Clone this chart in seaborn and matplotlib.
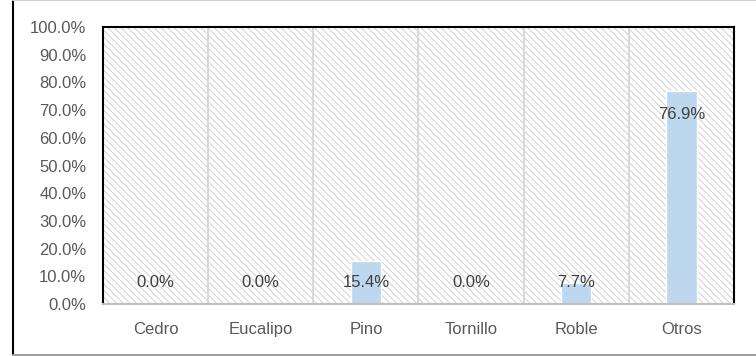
import numpy as np
import pandas as pd
import matplotlib
matplotlib.use("Agg")
import matplotlib.pyplot as plt
import seaborn as sns
from matplotlib.patches import Rectangle
from matplotlib.lines import Line2D

# data
especies = ["Cedro", "Eucalipo", "Pino", "Tornillo", "Roble", "Otros"]
porcentaje = [0.0, 0.0, 15.4, 0.0, 7.7, 76.9]
yticks = [0, 10, 20, 30, 40, 50, 60, 70, 80, 90, 100]

df = pd.DataFrame({"especie": especies, "pct": porcentaje})

sns.set_style("white")
plt.rcParams["font.family"] = ["Liberation Sans", "DejaVu Sans"]
plt.rcParams["hatch.linewidth"] = 0.8

txt = "#595959"
fig = plt.figure(figsize=(7.56, 3.56), dpi=100)
ax = fig.add_axes([103 / 756, 1 - 304 / 356, 631 / 756, 277 / 356])

# hatched plot background
bg = Rectangle((0, 0), 1, 1, transform=ax.transAxes, facecolor="white",
               edgecolor="#D6D6D6", hatch="\\" * 5, lw=0, zorder=0)
ax.add_patch(bg)

sns.barplot(data=df, x="especie", y="pct", color="#BDD7EE", width=0.29,
            saturation=1, ax=ax, zorder=3)

# vertical separators between categories
for xb in np.arange(0.5, len(especies) - 0.5, 1):
    ax.axvline(xb, color="#D9D9D9", lw=1.5, zorder=1)

ax.set_xlim(-0.5, len(especies) - 0.5)
ax.set_ylim(0, 100)
ax.set_yticks(yticks)
ax.set_yticklabels([f"{v:.1f}%" for v in yticks])
ax.set_xlabel("")
ax.set_ylabel("")
ax.tick_params(axis="both", length=0, labelsize=12, labelcolor=txt)
ax.tick_params(axis="y", pad=12)
ax.tick_params(axis="x", pad=13)

for s in ["left", "top", "right"]:
    ax.spines[s].set_color("black")
    ax.spines[s].set_linewidth(1.5)
ax.spines["bottom"].set_color("#BFBFBF")
ax.spines["bottom"].set_linewidth(1.5)
for s in ax.spines.values():
    s.set_zorder(5)

# value labels
for i, v in enumerate(porcentaje):
    ypos = max(v - 8.5, 7.6)
    ax.text(i, ypos, f"{v:.1f}%", ha="center", va="center",
            fontsize=12, color="#404040", zorder=6)

# outer chart border
fig.add_artist(Line2D([13 / 756, 13 / 756], [0.003, 1], color="black", lw=1.5))
fig.add_artist(Line2D([13 / 756, 1], [0.999, 0.999], color="#D0D0D0", lw=1.5))
fig.add_artist(Line2D([13 / 756, 1], [0.003, 0.003], color="#A0A0A0", lw=1.5))

fig.savefig("out.png", dpi=100)
